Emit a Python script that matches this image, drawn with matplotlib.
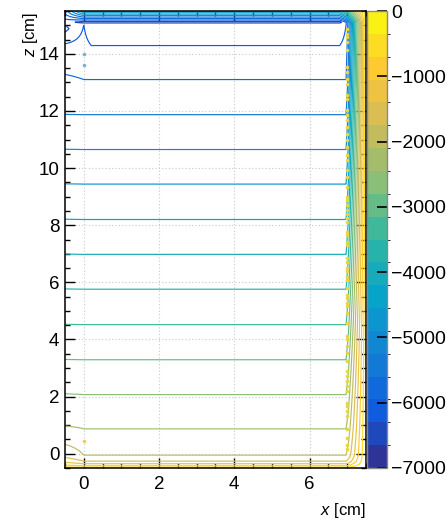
import numpy as np
import matplotlib
matplotlib.use("Agg")
import matplotlib.pyplot as plt
from matplotlib.colors import LinearSegmentedColormap, ListedColormap, BoundaryNorm
from matplotlib.cm import ScalarMappable
from matplotlib.ticker import MultipleLocator

plt.rcParams['font.family'] = ['Liberation Sans', 'DejaVu Sans']
plt.rcParams['mathtext.fontset'] = 'custom'
plt.rcParams['mathtext.rm'] = 'Liberation Sans'
plt.rcParams['mathtext.it'] = 'Liberation Sans:italic'

# ROOT kBird palette
bird_stops = [0.0, 0.125, 0.25, 0.375, 0.5, 0.625, 0.75, 0.875, 1.0]
bird_r = [0.2082, 0.0592, 0.0780, 0.0232, 0.1802, 0.5301, 0.8186, 0.9956, 0.9764]
bird_g = [0.1664, 0.3599, 0.5041, 0.6419, 0.7178, 0.7492, 0.7328, 0.7862, 0.9832]
bird_b = [0.5293, 0.8684, 0.8385, 0.7914, 0.6425, 0.4662, 0.3499, 0.1968, 0.0539]

# potential (V) and the height z (cm) where each value is reached
center_v = [0, -350, -700, -1050, -1400, -1750, -2100, -2450, -2800, -3150, -3500,
            -3850, -4200, -4550, -4900, -5250, -5600, -5950, -6300, -6450, -3800]
center_z = [-0.5, -0.47, -0.42, -0.35, -0.26, -0.05, 0.87, 2.07, 3.29, 4.52, 5.76,
            6.98, 8.2, 9.44, 10.65, 11.87, 13.1, 14.29, 15.08, 15.11, 15.5]
# along the left wall (x = 0) the top line bends up to the electrode
edge_v = center_v
edge_z = [-0.5, -0.47, -0.42, -0.35, -0.26, -0.05, 0.87, 2.07, 3.29, 4.52, 5.76,
          6.98, 8.2, 9.44, 10.65, 11.87, 13.1, 15.0, 15.08, 15.11, 15.5]
# right wall (x = 7): same, but the electrode band stops there
redge_v = [0, -350, -700, -1050, -1400, -1750, -2100, -2450, -2800, -3150, -3500,
           -3850, -4200, -4550, -4900, -5250, -5600, -5950, -6000, -3000]
redge_z = [-0.5, -0.47, -0.42, -0.35, -0.26, -0.05, 0.87, 2.07, 3.29, 4.52, 5.76,
           6.98, 8.2, 9.44, 10.65, 11.87, 13.1, 15.0, 15.1, 15.5]
# left border x = -0.5
left_v = [0, -350, -700, -1050, -1400, -1750, -2100, -2450, -2800, -3150, -3500,
          -3850, -4200, -4550, -4900, -5250, -5600, -5950, -6300, -6400, -6300,
          -5950, -5600, -5450]
left_z = [-0.5, -0.46, -0.4, -0.3, -0.13, 0.33, 0.97, 2.1, 3.3, 4.53, 5.77,
          6.99, 8.21, 9.45, 10.66, 11.88, 13.28, 14.35, 14.76, 14.88, 15.0,
          15.22, 15.4, 15.5]
column_x = [-0.5, 0.0, 0.2, 6.8, 6.97]
# fall-off of the potential in the outer strip on the right
strip_x = [6.97, 7.03, 7.5]
strip_frac = [1.0, 0.92, 0.0]

# small contour islands left by the solver
dots_right_z = [14.87, 14.70, 14.58, 14.41, 14.12, 13.53, 13.36, 13.13, 12.95, 12.55,
                12.43, 12.02, 11.85, 11.67, 11.44, 11.21, 10.97, 10.74, 10.45, 10.28,
                9.93, 9.69, 9.34, 9.0, 8.88, 8.7, 8.53, 8.41, 8.24, 8.12, 7.77, 7.65,
                7.42, 7.31, 6.84, 6.72, 6.49, 6.38, 6.2, 6.09, 5.8, 5.56, 5.45, 5.27,
                5.16, 4.93, 4.58, 4.11, 4.0, 3.76, 3.53, 3.23, 2.88, 2.71, 2.54, 2.36,
                2.19, 1.78, 1.66, 1.49, 1.31, 0.85, 0.56, 0.32, 0.15]
dots_left_z = [14.0, 13.6]
dots_left_low_z = [0.43]

cbar_ticks = [-7000, -6000, -5000, -4000, -3000, -2000, -1000, 0]

bird = LinearSegmentedColormap.from_list(
    'bird', list(zip(bird_stops, zip(bird_r, bird_g, bird_b))))
n_cont = 20
bounds = np.linspace(-7000, 0, n_cont + 1)
levels = bounds[:-1]
band_cmap = ListedColormap([bird((i + 0.5) / n_cont) for i in range(n_cont)])
norm = BoundaryNorm(bounds, n_cont)
line_colors = [bird(max(i - 0.5, 0) / n_cont) for i in range(n_cont)]

# build the potential map from the profiles
xg = np.linspace(-0.5, 7.5, 801)
zg = np.linspace(-0.5, 15.5, 1601)
prof_c = np.interp(zg, center_z, center_v)
prof_e = np.interp(zg, edge_z, edge_v)
prof_r = np.interp(zg, redge_z, redge_v)
prof_l = np.interp(zg, left_z, left_v)
cols = np.array([prof_l, prof_e, prof_c, prof_c, prof_r])
V = np.empty((len(zg), len(xg)))
for k in range(len(zg)):
    V[k] = np.interp(xg, column_x, cols[:, k])
V *= np.interp(xg, strip_x, strip_frac)[None, :]

fig = plt.figure(figsize=(4.46, 5.2), dpi=100)
ax = fig.add_axes([65 / 446, 52 / 520, 301 / 446, 457 / 520])
cax = fig.add_axes([367 / 446, 52 / 520, 20 / 446, 457 / 520])

ax.grid(True, which='major', ls=(0, (1, 2)), color='#c8c8c8', lw=0.8)
ax.set_axisbelow(True)
ax.contour(xg, zg, V, levels=levels, colors=line_colors, linewidths=0.85, zorder=2)

ax.plot(np.full(len(dots_right_z), 6.99), dots_right_z, 'o', ms=2.6,
        color='#e6d640', mec='none', zorder=3)
ax.plot(np.zeros(len(dots_left_z)), dots_left_z, 'o', ms=2.6,
        color='#6cbcc4', mec='none', zorder=3)
ax.plot(np.zeros(len(dots_left_low_z)), dots_left_low_z, 'o', ms=2.6,
        color='#ecd050', mec='none', zorder=3)

ax.set_xlim(-0.5, 7.5)
ax.set_ylim(-0.5, 15.5)
ax.set_xticks([0, 2, 4, 6])
ax.set_yticks(np.arange(0, 15, 2))
ax.xaxis.set_minor_locator(MultipleLocator(0.5))
ax.yaxis.set_minor_locator(MultipleLocator(0.5))
ax.tick_params(which='both', direction='in', top=True, right=True, width=1.0,
               labelsize=13.5, color='black')
ax.tick_params(which='major', length=7)
ax.tick_params(which='minor', length=3.5)
ax.tick_params(axis='x', pad=6)
ax.tick_params(axis='y', pad=4)
for s in ax.spines.values():
    s.set_linewidth(1.1)

cb = fig.colorbar(ScalarMappable(norm=norm, cmap=band_cmap), cax=cax, ticks=cbar_ticks)
cb.outline.set_edgecolor('#888888')
cb.outline.set_linewidth(1.0)
cax.tick_params(direction='in', length=7, width=1.2, labelsize=14, pad=3, color='black')

fig.text(366 / 446, 1 - 510 / 520, '$x$ [cm]', ha='right', va='center', fontsize=12)
fig.text(30 / 446, 1 - 12 / 520, '$z$ [cm]', ha='center', va='top', rotation=90, fontsize=12)

fig.savefig('out.png', dpi=100)
